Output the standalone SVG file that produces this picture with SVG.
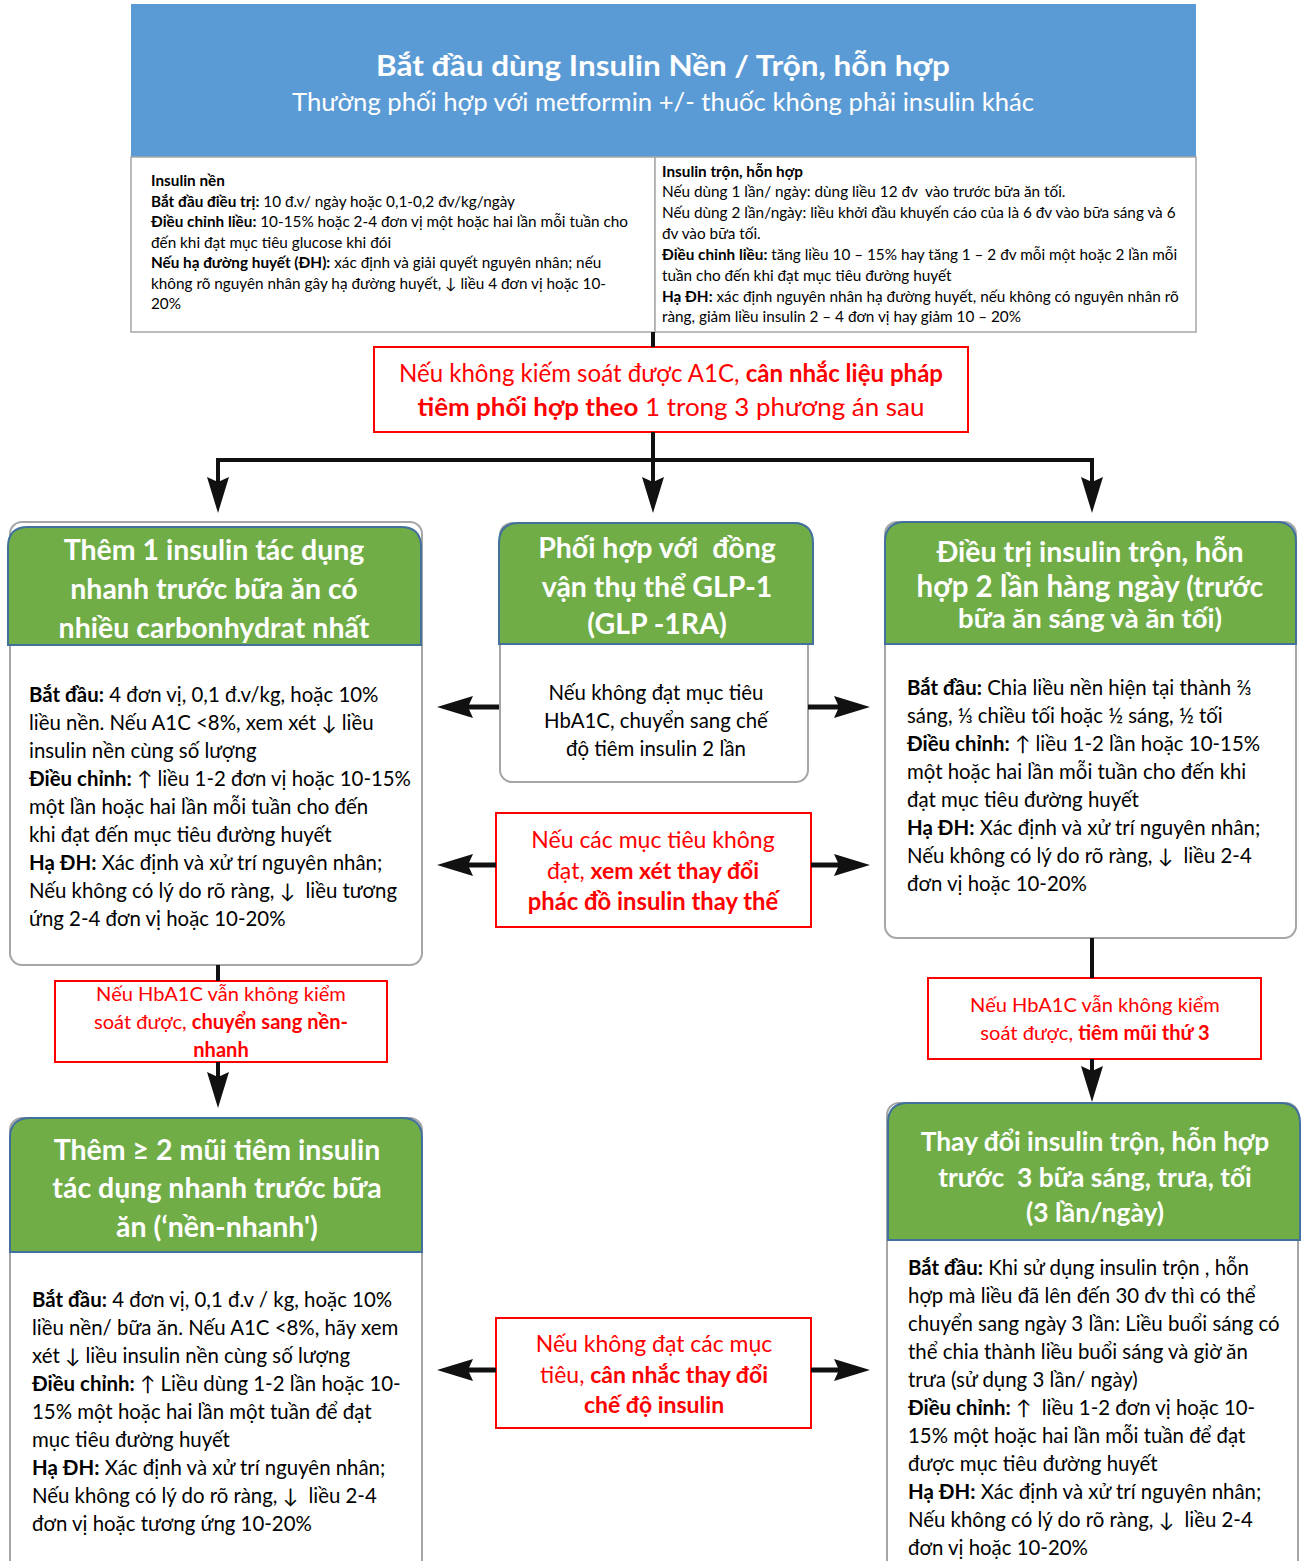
<svg xmlns="http://www.w3.org/2000/svg" width="1306" height="1561" viewBox="0 0 1306 1561">
<defs>
<style>
text{font-family:Lato,"Noto Sans",sans-serif}
.b{font-weight:bold}
.hd{fill:#fff;font-weight:bold;font-size:28.5px;text-anchor:middle}
.bd{font-size:20.4px;fill:#000}
.sm{font-size:15.3px;fill:#000}
.rt{fill:#ff0000;font-size:23px;text-anchor:middle}
.rs{font-size:20.1px}
.rbox{fill:#fff;stroke:#ff0000;stroke-width:2}
.green{fill:#70ad47;stroke:#41719c;stroke-width:2}
.card{fill:#fff;stroke:#a6a6a6;stroke-width:2}
.conn{stroke:#111;stroke-width:4;fill:none}
.side{stroke:#111;stroke-width:5;fill:none}
</style>
<marker id="ah" markerUnits="userSpaceOnUse" markerWidth="40" markerHeight="24" refX="5" refY="11" orient="auto">
<path d="M0,0 L36,11 L0,22 L5,11 Z" fill="#111"/>
</marker>
</defs>
<rect width="1306" height="1561" fill="#fff"/>

<g id="header">
<rect x="131" y="4" width="1065" height="153" fill="#5b9bd5"/>
<text x="663" y="76" fill="#fff" font-weight="bold" font-size="29" text-anchor="middle" textLength="574" lengthAdjust="spacingAndGlyphs">Bắt đầu dùng Insulin Nền / Trộn, hỗn hợp</text>
<text x="663" y="111" fill="#fff" font-size="25" text-anchor="middle" textLength="742" lengthAdjust="spacingAndGlyphs">Thường phối hợp với metformin +/- thuốc không phải insulin khác</text>
</g>

<g id="basal">
<rect x="131" y="157" width="524" height="175" fill="#fff" stroke="#a6a6a6" stroke-width="1.5"/>
<text class="sm" x="151" y="186"><tspan class="b">Insulin nền</tspan></text>
<text class="sm" x="151" y="207"><tspan class="b">Bắt đầu điều trị:</tspan> 10 đ.v/ ngày hoặc 0,1-0,2 đv/kg/ngày</text>
<text class="sm" x="151" y="227"><tspan class="b">Điều chỉnh liều:</tspan> 10-15% hoặc 2-4 đơn vị một hoặc hai lần mỗi tuần cho</text>
<text class="sm" x="151" y="248">đến khi đạt mục tiêu glucose khi đói</text>
<text class="sm" x="151" y="268"><tspan class="b">Nếu hạ đường huyết (ĐH):</tspan> xác định và giải quyết nguyên nhân; nếu</text>
<text class="sm" x="151" y="289">không rõ nguyên nhân gây hạ đường huyết, ↓ liều 4 đơn vị hoặc 10-</text>
<text class="sm" x="151" y="309">20%</text>
</g>

<g id="premix">
<rect x="655" y="157" width="541" height="175" fill="#fff" stroke="#a6a6a6" stroke-width="1.5"/>
<text class="sm" x="662" y="177"><tspan class="b">Insulin trộn, hỗn hợp</tspan></text>
<text class="sm" x="662" y="197" style="white-space:pre">Nếu dùng 1 lần/ ngày: dùng liều 12 đv  vào trước bữa ăn tối.</text>
<text class="sm" x="662" y="218">Nếu dùng 2 lần/ngày: liều khởi đầu khuyến cáo của là 6 đv vào bữa sáng và 6</text>
<text class="sm" x="662" y="239">đv vào bữa tối.</text>
<text class="sm" x="662" y="260"><tspan class="b">Điều chỉnh liều:</tspan> tăng liều 10 – 15% hay tăng 1 – 2 đv mỗi một hoặc 2 lần mỗi</text>
<text class="sm" x="662" y="281">tuần cho đến khi đạt mục tiêu đường huyết</text>
<text class="sm" x="662" y="302"><tspan class="b">Hạ ĐH:</tspan> xác định nguyên nhân hạ đường huyết, nếu không có nguyên nhân rõ</text>
<text class="sm" x="662" y="322">ràng, giảm liều insulin 2 – 4 đơn vị hay giảm 10 – 20%</text>
</g>

<g id="decision1">
<rect class="rbox" x="374" y="347" width="594" height="85"/>
<text class="rt" x="671" y="382" style="font-size:24.5px" textLength="544" lengthAdjust="spacingAndGlyphs">Nếu không kiếm soát được A1C, <tspan class="b">cân nhắc liệu pháp</tspan></text>
<text class="rt" x="671" y="416" style="font-size:25.5px" textLength="507" lengthAdjust="spacingAndGlyphs"><tspan class="b">tiêm phối hợp theo</tspan> 1 trong 3 phương án sau</text>
</g>

<g id="prandial1">
<rect class="card" x="10" y="522" width="412" height="443" rx="12"/>
<path class="green" d="M8,645 V547 Q8,527 28,527 H401 Q421,527 421,547 V645 Z"/>
<text class="hd" x="214" y="560">Thêm 1 insulin tác dụng</text>
<text class="hd" x="214" y="599">nhanh trước bữa ăn có</text>
<text class="hd" x="214" y="638">nhiều carbonhydrat nhất</text>
<text class="bd" x="29" y="702"><tspan class="b">Bắt đầu:</tspan> 4 đơn vị, 0,1 đ.v/kg, hoặc 10%</text>
<text class="bd" x="29" y="730">liều nền. Nếu A1C &lt;8%, xem xét ↓ liều</text>
<text class="bd" x="29" y="758">insulin nền cùng số lượng</text>
<text class="bd" x="29" y="786"><tspan class="b">Điều chỉnh:</tspan> ↑ liều 1-2 đơn vị hoặc 10-15%</text>
<text class="bd" x="29" y="814">một lần hoặc hai lần mỗi tuần cho đến</text>
<text class="bd" x="29" y="842">khi đạt đến mục tiêu đường huyết</text>
<text class="bd" x="29" y="870"><tspan class="b">Hạ ĐH:</tspan> Xác định và xử trí nguyên nhân;</text>
<text class="bd" x="29" y="898" style="white-space:pre">Nếu không có lý do rõ ràng, ↓  liều tương</text>
<text class="bd" x="29" y="926">ứng 2-4 đơn vị hoặc 10-20%</text>
</g>

<g id="glp1">
<rect class="card" x="500" y="523" width="308" height="259" rx="12"/>
<path class="green" d="M499,644 V543 Q499,523 519,523 H793 Q813,523 813,543 V644 Z"/>
<text class="hd" x="657" y="558" style="white-space:pre">Phối hợp với  đồng</text>
<text class="hd" x="657" y="597">vận thụ thể GLP-1</text>
<text class="hd" x="657" y="634">(GLP -1RA)</text>
<text class="bd" x="656" y="700" text-anchor="middle">Nếu không đạt mục tiêu</text>
<text class="bd" x="656" y="728" text-anchor="middle">HbA1C, chuyển sang chế</text>
<text class="bd" x="656" y="756" text-anchor="middle">độ tiêm insulin 2 lần</text>
</g>

<g id="premix2">
<rect class="card" x="885" y="522" width="411" height="416" rx="12"/>
<path class="green" d="M885,644 V542 Q885,522 905,522 H1276 Q1296,522 1296,542 V644 Z"/>
<text class="hd" x="1090" y="562">Điều trị insulin trộn, hỗn</text>
<text class="hd" x="1090" y="597" style="font-size:29.5px">hợp 2 lần hàng ngày <tspan style="font-size:28px">(trước</tspan></text>
<text class="hd" x="1090" y="628" style="font-size:27.5px">bữa ăn sáng và ăn tối)</text>
<text class="bd" x="907" y="695"><tspan class="b">Bắt đầu:</tspan> Chia liều nền hiện tại thành ⅔</text>
<text class="bd" x="907" y="723">sáng, ⅓ chiều tối hoặc ½ sáng, ½ tối</text>
<text class="bd" x="907" y="751"><tspan class="b">Điều chỉnh:</tspan> ↑ liều 1-2 lần hoặc 10-15%</text>
<text class="bd" x="907" y="779">một hoặc hai lần mỗi tuần cho đến khi</text>
<text class="bd" x="907" y="807">đạt mục tiêu đường huyết</text>
<text class="bd" x="907" y="835"><tspan class="b">Hạ ĐH:</tspan> Xác định và xử trí nguyên nhân;</text>
<text class="bd" x="907" y="863" style="white-space:pre">Nếu không có lý do rõ ràng, ↓  liều 2-4</text>
<text class="bd" x="907" y="891">đơn vị hoặc 10-20%</text>
</g>

<g id="decision2">
<rect class="rbox" x="496" y="813" width="315" height="114"/>
<text class="rt" x="653" y="848">Nếu các mục tiêu không</text>
<text class="rt" x="653" y="879">đạt, <tspan class="b">xem xét thay đổi</tspan></text>
<text class="rt" x="653" y="910" style="font-size:23.8px"><tspan class="b">phác đồ insulin thay thế</tspan></text>
</g>

<g id="decision3">
<rect class="rbox" x="55" y="981" width="332" height="81"/>
<text class="rt rs" x="221" y="1001">Nếu HbA1C vẫn không kiểm</text>
<text class="rt rs" x="221" y="1029">soát được, <tspan class="b">chuyển sang nền-</tspan></text>
<text class="rt rs" x="221" y="1057"><tspan class="b">nhanh</tspan></text>
</g>

<g id="decision4">
<rect class="rbox" x="928" y="978" width="333" height="81"/>
<text class="rt rs" x="1095" y="1012">Nếu HbA1C vẫn không kiểm</text>
<text class="rt rs" x="1095" y="1040">soát được, <tspan class="b">tiêm mũi thứ 3</tspan></text>
</g>

<g id="basalbolus">
<rect class="card" x="10" y="1118" width="412" height="460" rx="12"/>
<path class="green" d="M10,1252 V1138 Q10,1118 30,1118 H402 Q422,1118 422,1138 V1252 Z"/>
<text class="hd" x="217" y="1160">Thêm ≥ 2 mũi tiêm insulin</text>
<text class="hd" x="217" y="1198">tác dụng nhanh trước bữa</text>
<text class="hd" x="217" y="1237">ăn (‘nền-nhanh')</text>
<text class="bd" x="32" y="1307"><tspan class="b">Bắt đầu:</tspan> 4 đơn vị, 0,1 đ.v / kg, hoặc 10%</text>
<text class="bd" x="32" y="1335">liều nền/ bữa ăn. Nếu A1C &lt;8%, hãy xem</text>
<text class="bd" x="32" y="1363">xét ↓ liều insulin nền cùng số lượng</text>
<text class="bd" x="32" y="1391"><tspan class="b">Điều chỉnh:</tspan> ↑ Liều dùng 1-2 lần hoặc 10-</text>
<text class="bd" x="32" y="1419">15% một hoặc hai lần một tuần để đạt</text>
<text class="bd" x="32" y="1447">mục tiêu đường huyết</text>
<text class="bd" x="32" y="1475"><tspan class="b">Hạ ĐH:</tspan> Xác định và xử trí nguyên nhân;</text>
<text class="bd" x="32" y="1503" style="white-space:pre">Nếu không có lý do rõ ràng, ↓  liều 2-4</text>
<text class="bd" x="32" y="1531">đơn vị hoặc tương ứng 10-20%</text>
</g>

<g id="premix3">
<rect class="card" x="887" y="1103" width="411" height="475" rx="12"/>
<path class="green" d="M888,1240 V1123 Q888,1103 908,1103 H1280 Q1300,1103 1300,1123 V1240 Z"/>
<text class="hd" x="1095" y="1151" style="font-size:26.4px">Thay đổi insulin trộn, hỗn hợp</text>
<text class="hd" x="1095" y="1187" style="font-size:26.4px;white-space:pre">trước  3 bữa sáng, trưa, tối</text>
<text class="hd" x="1095" y="1222" style="font-size:26.4px">(3 lần/ngày)</text>
<text class="bd" x="908" y="1275"><tspan class="b">Bắt đầu:</tspan> Khi sử dụng insulin trộn , hỗn</text>
<text class="bd" x="908" y="1303">hợp mà liều đã lên đến 30 đv thì có thể</text>
<text class="bd" x="908" y="1331">chuyển sang ngày 3 lần: Liều buổi sáng có</text>
<text class="bd" x="908" y="1359">thể chia thành liều buổi sáng và giờ ăn</text>
<text class="bd" x="908" y="1387">trưa (sử dụng 3 lần/ ngày)</text>
<text class="bd" x="908" y="1415" style="white-space:pre"><tspan class="b">Điều chỉnh:</tspan> ↑  liều 1-2 đơn vị hoặc 10-</text>
<text class="bd" x="908" y="1443">15% một hoặc hai lần mỗi tuần để đạt</text>
<text class="bd" x="908" y="1471">được mục tiêu đường huyết</text>
<text class="bd" x="908" y="1499"><tspan class="b">Hạ ĐH:</tspan> Xác định và xử trí nguyên nhân;</text>
<text class="bd" x="908" y="1527" style="white-space:pre">Nếu không có lý do rõ ràng, ↓  liều 2-4</text>
<text class="bd" x="908" y="1555">đơn vị hoặc 10-20%</text>
</g>

<g id="decision5">
<rect class="rbox" x="496" y="1318" width="315" height="110"/>
<text class="rt" x="654" y="1352">Nếu không đạt các mục</text>
<text class="rt" x="654" y="1383">tiêu, <tspan class="b">cân nhắc thay đổi</tspan></text>
<text class="rt" x="654" y="1413"><tspan class="b">chế độ insulin</tspan></text>
</g>

<g id="connectors">
<path class="conn" d="M653,332 V347"/>
<path class="conn" d="M653,432 V460"/>
<path class="conn" d="M216,460 H1094"/>
<path class="conn" d="M218,458 V482" marker-end="url(#ah)"/>
<path class="conn" d="M653,458 V482" marker-end="url(#ah)"/>
<path class="conn" d="M1092,458 V482" marker-end="url(#ah)"/>
<path class="side" d="M499,707 H468" marker-end="url(#ah)"/>
<path class="side" d="M808,707 H839" marker-end="url(#ah)"/>
<path class="side" d="M496,865 H468" marker-end="url(#ah)"/>
<path class="side" d="M811,865 H839" marker-end="url(#ah)"/>
<path class="side" d="M496,1370 H468" marker-end="url(#ah)"/>
<path class="side" d="M811,1370 H839" marker-end="url(#ah)"/>
<path class="conn" d="M218,965 V981"/>
<path class="conn" d="M218,1062 V1077" marker-end="url(#ah)"/>
<path class="conn" d="M1092,938 V978"/>
<path class="conn" d="M1092,1059 V1071" marker-end="url(#ah)"/>
</g>
</svg>
